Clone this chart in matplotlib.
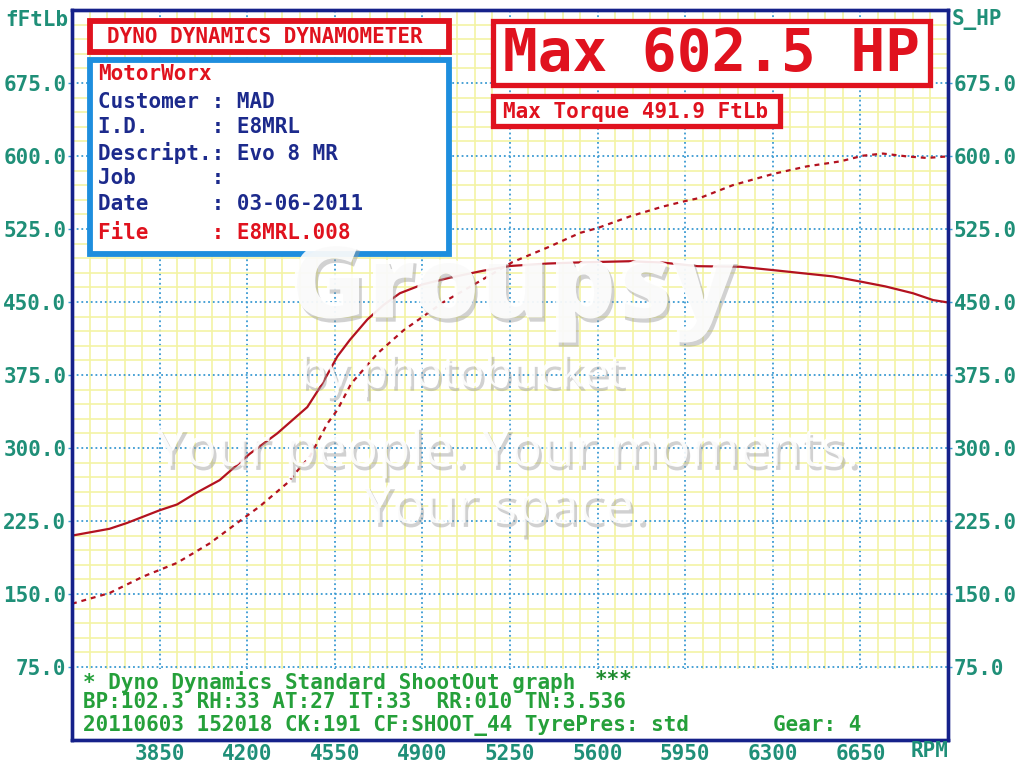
import matplotlib
matplotlib.use('Agg')
import matplotlib.pyplot as plt
import matplotlib.patheffects as pe
from matplotlib.patches import Rectangle
from matplotlib.ticker import FixedLocator, MultipleLocator, NullFormatter

# ---------------- data ----------------
rpm_torque = [3500, 3650, 3720, 3850, 3920, 3990, 4090, 4210, 4320, 4440, 4500, 4560,
              4610, 4680, 4745, 4810, 4900, 5010, 5140, 5250, 5400, 5530, 5730, 5860,
              6000, 6170, 6300, 6410, 6540, 6650, 6750, 6860, 6940, 7000]
torque_ftlb = [210, 217, 223, 236, 242, 253, 267, 294, 315, 342, 366, 394,
               411, 432, 447, 459, 468, 475, 482, 487, 489.5, 490.7, 491.9, 490.5,
               486.8, 486.2, 482.8, 479.8, 476.3, 471, 466, 459, 452, 449.5]

rpm_power = [3500, 3650, 3785, 3920, 4050, 4160, 4250, 4360, 4405, 4450, 4520, 4560,
             4615, 4720, 4825, 4985, 5140, 5260, 5400, 5530, 5600, 5730, 5860, 5955,
             6010, 6140, 6300, 6435, 6570, 6660, 6740, 6835, 6915, 7000]
power_hp = [140, 151, 168, 182, 202, 223, 240, 264, 278, 291, 325, 339,
            366, 397, 421, 450, 473, 491, 506, 521, 526, 538, 548, 554,
            557, 570, 581.5, 589.3, 594.5, 600.3, 602.5, 599.6, 598, 599.6]

x_ticks = [3850, 4200, 4550, 4900, 5250, 5600, 5950, 6300, 6650]
y_ticks = [75, 150, 225, 300, 375, 450, 525, 600, 675]
y_tick_labels = ['75.0', '150.0', '225.0', '300.0', '375.0', '450.0', '525.0', '600.0', '675.0']

info_lines = [
    ('Customer : MAD', 'navy'),
    ('I.D.     : E8MRL', 'navy'),
    ('Descript.: Evo 8 MR', 'navy'),
    ('Job      :', 'navy'),
    ('Date     : 03-06-2011', 'navy'),
    ('File     : E8MRL.008', 'red'),
]
footer_line1 = '* Dyno Dynamics Standard ShootOut graph '
footer_line2 = 'BP:102.3 RH:33 AT:27 IT:33  RR:010 TN:3.536'
footer_line3 = '20110603 152018 CK:191 CF:SHOOT_44 TyrePres: std'

# ---------------- style ----------------
W, H = 1023, 766
MONO = 'DejaVu Sans Mono'
TEAL = '#1f8f78'
GREEN = '#25a03a'
DGREEN = '#1c8a2c'
RED = '#e0121e'
NAVY = '#1c2a8c'
BLUE = '#1e8ede'
FRAME = '#15218a'
CURVE = '#b3121f'

def fx(x):
    return x / W

def fy(y):
    return 1 - y / H

fig = plt.figure(figsize=(W / 100, H / 100), dpi=100)
fig.patch.set_facecolor('white')
ax = fig.add_axes([72 / W, 1 - 740 / H, 876 / W, 730 / H])
ax.set_xlim(3500, 7000)
ax.set_ylim(0, 750)
ax.set_facecolor('white')

ax.xaxis.set_major_locator(FixedLocator(x_ticks))
ax.yaxis.set_major_locator(FixedLocator(y_ticks))
ax.xaxis.set_minor_locator(MultipleLocator(70))
ax.yaxis.set_minor_locator(MultipleLocator(15))
ax.xaxis.set_minor_formatter(NullFormatter())
ax.yaxis.set_minor_formatter(NullFormatter())
ax.set_axisbelow(True)
ax.grid(which='minor', color='#f3f3a4', lw=1.2, ls='-')
ax.grid(which='major', color='#3a9ad2', lw=1.3, ls=(0, (1, 1.6)))

ax.set_xticklabels([str(v) for v in x_ticks], fontfamily=MONO, fontweight='bold',
                   fontsize=15, color=TEAL)
ax.set_yticklabels(y_tick_labels, fontfamily=MONO, fontweight='bold', fontsize=15, color=TEAL)
ax.tick_params(axis='x', which='both', length=0, pad=3)
ax.tick_params(axis='y', which='major', length=3, width=1, color='#3a9ad2', pad=1)
ax.tick_params(axis='y', which='minor', length=0)
for s in ax.spines.values():
    s.set_color(FRAME)
    s.set_linewidth(2.4)
    s.set_zorder(6)

ax2 = ax.twinx()
ax2.set_ylim(0, 750)
ax2.yaxis.set_major_locator(FixedLocator(y_ticks))
ax2.set_yticklabels(y_tick_labels, fontfamily=MONO, fontweight='bold', fontsize=15, color=TEAL)
ax2.tick_params(axis='y', length=3, width=1, color='#3a9ad2', pad=1)
for s in ax2.spines.values():
    s.set_color(FRAME)
    s.set_linewidth(2.4)

# bottom white info strip
ax.add_patch(Rectangle((3500, 0), 3500, 72.5, facecolor='white', edgecolor='none', zorder=1))

# curves
ax.plot(rpm_torque, torque_ftlb, color=CURVE, lw=1.6, zorder=3)
ax.plot(rpm_power, power_hp, color=CURVE, lw=1.6, ls=(0, (2.2, 2.2)), zorder=3)

# axis titles
fig.text(fx(5), fy(20), 'fFtLb', fontfamily=MONO, fontweight='bold', fontsize=15,
         color=TEAL, ha='left', va='center')
fig.text(fx(952), fy(20), 'S_HP', fontfamily=MONO, fontweight='bold', fontsize=15,
         color=TEAL, ha='left', va='center')
fig.text(fx(948), fy(751), 'RPM', fontfamily=MONO, fontweight='bold', fontsize=15,
         color=TEAL, ha='right', va='center')

def box(x0, y0, x1, y1, ec, lw):
    r = Rectangle((fx(x0), fy(y1)), (x1 - x0) / W, (y1 - y0) / H, transform=fig.transFigure,
                  facecolor='white', edgecolor=ec, lw=lw, zorder=5)
    fig.add_artist(r)

def mtext(x, y, s, color, size=15, zorder=6):
    fig.text(fx(x), fy(y), s, fontfamily=MONO, fontweight='bold', fontsize=size,
             color=color, ha='left', va='center', zorder=zorder)

# title boxes
box(90, 21, 449, 52, RED, 4.2)
mtext(107, 37, 'DYNO DYNAMICS DYNAMOMETER', RED)
box(90, 60, 449, 254, BLUE, 4.2)
mtext(98, 74, 'MotorWorx', RED)
line_y = [102, 127, 153, 178, 204, 233]
for (s, c), yy in zip(info_lines, line_y):
    mtext(98, yy, s, RED if c == 'red' else NAVY)

box(493, 21, 930, 85, RED, 3.8)
mtext(503, 54, 'Max 602.5 HP', RED, size=41.5)
box(493, 96, 780, 126, RED, 3.8)
mtext(503, 112, 'Max Torque 491.9 FtLb', RED)

# footer
mtext(83, 682, footer_line1, GREEN)
mtext(595, 680, '***', DGREEN)
mtext(83, 702, footer_line2, GREEN)
mtext(83, 725, footer_line3, GREEN)
mtext(773, 725, 'Gear: 4', GREEN)

# hosting watermark
shadow = [pe.SimplePatchShadow(offset=(2, -3), shadow_rgbFace='#9a9a9a', alpha=0.45),
          pe.Normal()]
WM = dict(color='white', alpha=0.9, ha='center', va='center', zorder=8, family='Open Sans',
          path_effects=shadow)
fig.text(fx(512), fy(290), 'Groupsy', fontsize=75, fontweight='heavy', **WM)
fig.text(fx(462), fy(375), 'by photobucket', fontsize=32, **WM)
fig.text(fx(507), fy(452), 'Your people. Your moments.', fontsize=38, **WM)
fig.text(fx(505), fy(509), 'Your space.', fontsize=38, **WM)

fig.savefig('out.png', dpi=100, facecolor='white')
